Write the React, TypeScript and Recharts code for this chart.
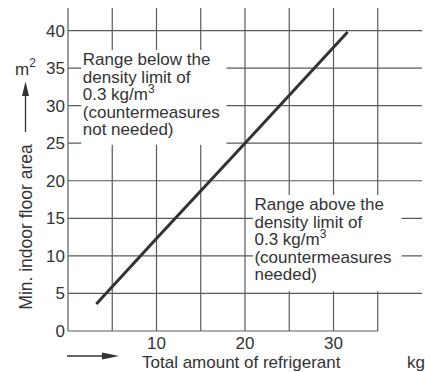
import React from 'react'
import {
  ComposedChart, Line, XAxis, YAxis, CartesianGrid, ReferenceLine, ReferenceArea,
} from 'recharts'

// values
const refrigerantKg = [3.2, 10, 20, 31.6]
const floorAreaM2 = [3.6, 12.3, 25.0, 39.8]
const xTicks = [10, 20, 30]
const yTicks = [0, 5, 10, 15, 20, 25, 30, 35, 40]
const xGrid = [5, 10, 15, 20, 25, 30, 35]
const yGrid = [5, 10, 15, 20, 25, 30, 35, 40]
const belowLines = ['Range below the', 'density limit of', '0.3 kg/m^3', '(countermeasures', 'not needed)']
const aboveLines = ['Range above the', 'density limit of', '0.3 kg/m^3', '(countermeasures', 'needed)']

const FONT = '"Liberation Sans", Arial, sans-serif'
const INK = '#333'
const GRID = '#5a5a5a'

const data = refrigerantKg.map((kg, i) => ({ amount: kg, area: floorAreaM2[i] }))

function boxText(lines: string[]) {
  return (props: any) => {
    const vb = props.viewBox || {}
    const x = vb.x + 1.5
    return (
      <text fontFamily={FONT} fontSize={17} fill={INK}>
        {lines.map((ln, i) => {
          const [main, sup] = ln.split('^')
          return (
            <tspan key={i} x={x} y={vb.y + 15 + i * 17.5}>
              {main}
              {sup && <tspan dy={-7} fontSize={12}>{sup}</tspan>}
            </tspan>
          )
        })}
      </text>
    )
  }
}

function YTitle() {
  return (
    <g fontFamily={FONT} fill={INK}>
      <text x={31.5} y={227} fontSize={17.5} textAnchor="middle" transform="rotate(-90, 31.5, 227)">
        Min. indoor floor area
      </text>
      <line x1={25.5} y1={132} x2={25.5} y2={94} stroke={INK} strokeWidth={1.3} />
      <polygon points="25.5,81.5 22,96 29,96" fill={INK} />
      <text x={15} y={75} fontSize={17}>
        m<tspan dy={-8} fontSize={12}>2</tspan>
      </text>
    </g>
  )
}

function XTitle() {
  return (
    <g fontFamily={FONT} fill={INK}>
      <line x1={67} y1={356} x2={104} y2={356} stroke={INK} strokeWidth={1.3} />
      <polygon points="102,352.5 119,356 102,359.5" fill={INK} />
      <text x={142} y={368} fontSize={17}>Total amount of refrigerant</text>
      <text x={407} y={368} fontSize={17}>kg</text>
    </g>
  )
}

export default function App() {
  return (
    <div style={{ position: 'absolute', left: 0, top: 0, background: '#fff' }}>
      <ComposedChart width={425} height={372} data={data}
        margin={{ top: 8, right: 3, bottom: 0, left: 8 }}>
        <CartesianGrid stroke={GRID} strokeWidth={1.2}
          verticalValues={xGrid} horizontalValues={yGrid} />
        <XAxis type="number" dataKey="amount" domain={[0, 40]} ticks={xTicks}
          axisLine={false} tickLine={false} tickSize={4} tickMargin={2} height={41}
          tick={{ fontSize: 17, fill: INK, fontFamily: FONT }}
          label={{ content: XTitle }} />
        <YAxis type="number" domain={[0, 43]} ticks={yTicks} width={60}
          axisLine={{ stroke: GRID, strokeWidth: 1.2 }} tickLine={false}
          tickSize={0} tickMargin={3}
          tick={{ fontSize: 17, fill: INK, fontFamily: FONT }}
          label={{ content: YTitle }} />
        <ReferenceLine segment={[{ x: 0, y: 0 }, { x: 35, y: 0 }]} stroke={GRID} strokeWidth={1.2} />
        <ReferenceArea x1={1.5} x2={17.9} y1={24.8} y2={37.4} fill="#fff" fillOpacity={1}
          stroke="none" label={{ content: boxText(belowLines) }} />
        <ReferenceArea x1={20.9} x2={37.7} y1={5.3} y2={18.1} fill="#fff" fillOpacity={1}
          stroke="none" label={{ content: boxText(aboveLines) }} />
        <Line type="linear" dataKey="area" stroke={INK} strokeWidth={3} dot={false}
          isAnimationActive={false} />
      </ComposedChart>
    </div>
  )
}
